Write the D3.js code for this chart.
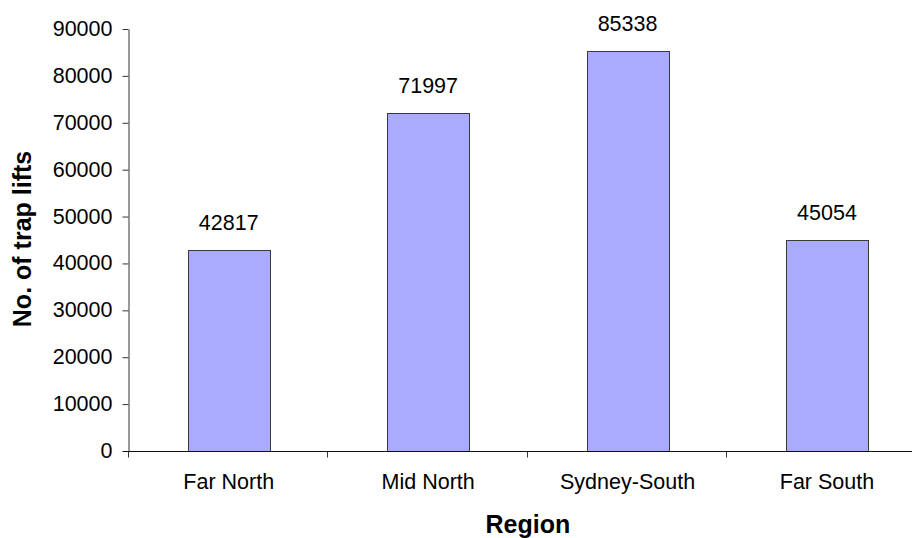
<!DOCTYPE html>
<html>
<head>
<meta charset="utf-8">
<script src="https://cdn.jsdelivr.net/npm/d3@7"></script>
<style>
  html, body { margin: 0; padding: 0; background: #fff; }
  svg { display: block; font-family: Arial, "Liberation Sans", sans-serif; }
</style>
</head>
<body>
<svg id="chart" width="912" height="538"></svg>
<script>
// Trap lifts by region
const regions = ["Far North", "Mid North", "Sydney-South", "Far South"];
const trapLifts = [42817, 71997, 85338, 45054];
const yTicks = [0, 10000, 20000, 30000, 40000, 50000, 60000, 70000, 80000, 90000];

const svg = d3.select("#chart");
const plot = { left: 129, right: 926.7, top: 29, bottom: 451 };

const x = d3.scaleBand()
  .domain(regions)
  .range([plot.left, plot.right])
  .paddingInner(0.59)
  .paddingOuter(0.295);
const step = x.step();

const y = d3.scaleLinear()
  .domain([0, 90000])
  .range([plot.bottom, plot.top]);

// Bars
svg.append("g")
  .selectAll("rect")
  .data(regions)
  .join("rect")
  .attr("x", (d) => Math.round(x(d)) + 0.5)
  .attr("y", (d, i) => Math.round(y(trapLifts[i])) + 0.5)
  .attr("width", Math.round(x.bandwidth()))
  .attr("height", (d, i) => Math.round(y(0)) - Math.round(y(trapLifts[i])))
  .attr("fill", "#aaaaff")
  .attr("stroke", "#3a3a3a")
  .attr("stroke-width", 1);

// Value labels above bars
svg.append("g")
  .selectAll("text")
  .data(regions)
  .join("text")
  .attr("x", (d) => x(d) + x.bandwidth() / 2)
  .attr("y", (d, i) => y(trapLifts[i]) - 20)
  .attr("text-anchor", "middle")
  .attr("font-size", 21.5)
  .attr("fill", "#000")
  .text((d, i) => trapLifts[i]);

// Y axis
const yAxis = svg.append("g")
  .attr("transform", `translate(${plot.left - 0.5},0)`)
  .call(d3.axisLeft(y).tickValues(yTicks).tickSize(6).tickPadding(10).tickSizeOuter(0).tickFormat(d3.format("d")));
yAxis.select(".domain").attr("stroke", "#333");
yAxis.selectAll(".tick line").attr("stroke", "#333");
yAxis.selectAll(".tick text")
  .attr("font-size", 21.5)
  .attr("font-family", "Arial, 'Liberation Sans', sans-serif")
  .attr("fill", "#000")
  .attr("dy", "0.3em");

// X axis: ticks at category boundaries
const xAxisG = svg.append("g")
  .attr("transform", `translate(0,${Math.round(plot.bottom) + 0.5})`);
xAxisG.append("line")
  .attr("x1", plot.left - 6).attr("x2", plot.right)
  .attr("y1", 0).attr("y2", 0)
  .attr("stroke", "#111");
const boundaries = regions.map((d) => x(d) - x.paddingOuter() * step);
xAxisG.selectAll("line.tick")
  .data(boundaries)
  .join("line")
  .attr("class", "tick")
  .attr("x1", (d) => Math.round(d) - 0.5).attr("x2", (d) => Math.round(d) - 0.5)
  .attr("y1", 0).attr("y2", 6)
  .attr("stroke", "#333");
xAxisG.selectAll("text")
  .data(regions)
  .join("text")
  .attr("x", (d) => x(d) + x.bandwidth() / 2)
  .attr("y", 37.5)
  .attr("text-anchor", "middle")
  .attr("font-size", 21.5)
  .attr("fill", "#000")
  .text((d) => d);

// Axis titles
svg.append("text")
  .attr("x", (plot.left + plot.right) / 2)
  .attr("y", 533)
  .attr("text-anchor", "middle")
  .attr("font-size", 25)
  .attr("font-weight", "bold")
  .attr("fill", "#000")
  .text("Region");

svg.append("text")
  .attr("transform", "translate(31,239) rotate(-90)")
  .attr("text-anchor", "middle")
  .attr("font-size", 25)
  .attr("font-weight", "bold")
  .attr("fill", "#000")
  .text("No. of trap lifts");
</script>
</body>
</html>
